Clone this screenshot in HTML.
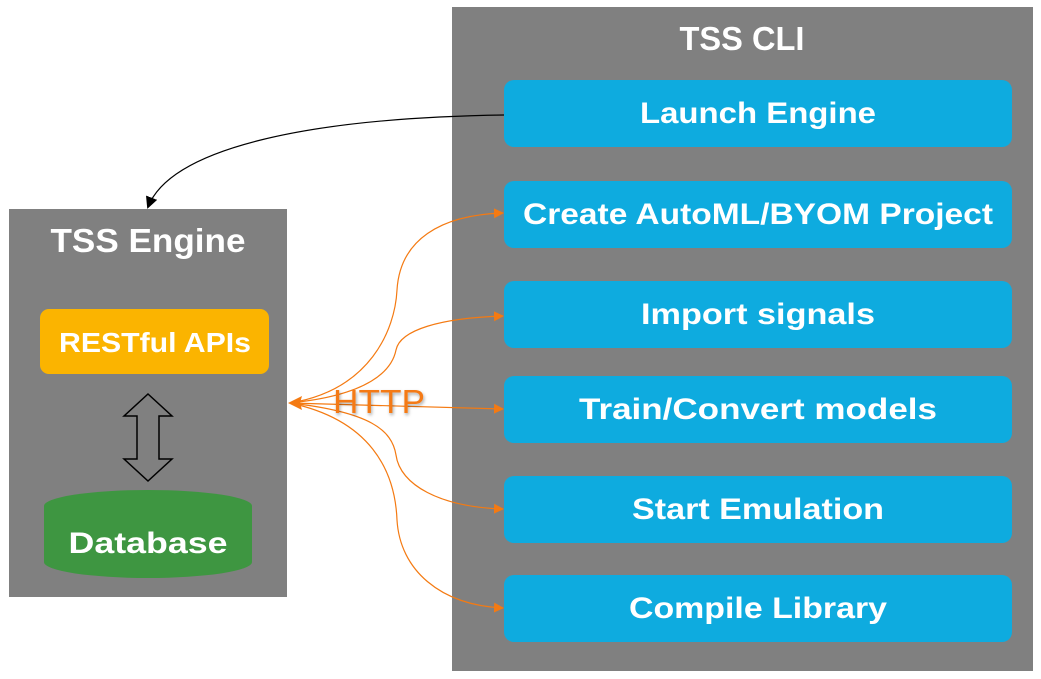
<!DOCTYPE html>
<html><head><meta charset="utf-8"><style>
html,body{margin:0;padding:0;background:#fff;}
svg{display:block;}
text{font-family:"Liberation Sans",sans-serif;font-weight:bold;fill:#fff;text-anchor:middle;}
</style></head><body>
<svg width="1041" height="679" viewBox="0 0 1041 679" xmlns="http://www.w3.org/2000/svg">
<defs>
<marker id="ob" markerWidth="10" markerHeight="10" refX="9" refY="5" orient="auto" markerUnits="userSpaceOnUse"><path d="M0,0 L10,5 L0,10 z" fill="#F47A12"/></marker>
<marker id="bk" markerWidth="12" markerHeight="12" refX="10" refY="6" orient="auto" markerUnits="userSpaceOnUse"><path d="M0,0 L12,6 L0,12 z" fill="#000"/></marker>
<filter id="sh" x="-20%" y="-20%" width="140%" height="140%"><feDropShadow dx="1" dy="2" stdDeviation="1.5" flood-color="#000" flood-opacity="0.35"/></filter>
</defs>
<rect x="452" y="7" width="581" height="664" fill="#808080"/>
<text x="742" y="50" font-size="33" textLength="125" lengthAdjust="spacingAndGlyphs">TSS CLI</text>
<g fill="#0EABDF">
<rect x="504" y="80" width="508" height="67" rx="10"/>
<rect x="504" y="181" width="508" height="67" rx="10"/>
<rect x="504" y="281" width="508" height="67" rx="10"/>
<rect x="504" y="376" width="508" height="67" rx="10"/>
<rect x="504" y="476" width="508" height="67" rx="10"/>
<rect x="504" y="575" width="508" height="67" rx="10"/>
</g>
<text x="758" y="123" font-size="30" textLength="236" lengthAdjust="spacingAndGlyphs">Launch Engine</text>
<text x="758" y="224" font-size="30" textLength="470" lengthAdjust="spacingAndGlyphs">Create AutoML/BYOM Project</text>
<text x="758" y="324" font-size="30" textLength="234" lengthAdjust="spacingAndGlyphs">Import signals</text>
<text x="758" y="419" font-size="30" textLength="358" lengthAdjust="spacingAndGlyphs">Train/Convert models</text>
<text x="758" y="519" font-size="30" textLength="252" lengthAdjust="spacingAndGlyphs">Start Emulation</text>
<text x="758" y="618" font-size="30" textLength="258" lengthAdjust="spacingAndGlyphs">Compile Library</text>

<rect x="9" y="209" width="278" height="388" fill="#808080"/>
<text x="148" y="252" font-size="33" textLength="195" lengthAdjust="spacingAndGlyphs">TSS Engine</text>
<rect x="40" y="309" width="229" height="65" rx="9" fill="#FBB400"/>
<text x="155" y="352" font-size="28" textLength="192" lengthAdjust="spacingAndGlyphs">RESTful APIs</text>
<path d="M148,394 L172,416 L159,416 L159,459 L172,459 L148,481 L124,459 L137,459 L137,416 L124,416 Z" fill="none" stroke="#000" stroke-width="1.5"/>
<path d="M44,506 A104,16 0 0 1 252,506 L252,562 A104,16 0 0 1 44,562 Z" fill="#3E9641"/>
<text x="148" y="553" font-size="30" textLength="159" lengthAdjust="spacingAndGlyphs">Database</text>

<path d="M504,115 C300,118 170,150 148,207" fill="none" stroke="#000" stroke-width="1.2" marker-end="url(#bk)"/>

<g fill="none" stroke="#F47A12" stroke-width="1.2">
<path d="M290,403 C370,390 395,330 397,290 C400,240 440,215 503,213" marker-end="url(#ob)"/>
<path d="M290,403 C370,395 392,370 396,350 C400,330 440,318 503,316" marker-end="url(#ob)"/>
<path d="M290,403 L503,409" marker-end="url(#ob)"/>
<path d="M290,403 C370,412 392,430 396,455 C400,485 440,507 503,509" marker-end="url(#ob)"/>
<path d="M290,403 C370,420 395,470 397,520 C400,570 440,605 503,608" marker-end="url(#ob)"/>
</g>
<path d="M288,403 L302,396 L300,403 L302,410 Z" fill="#F47A12"/>
<text x="379" y="413" font-size="33" textLength="92" lengthAdjust="spacingAndGlyphs" style="font-weight:normal;fill:#F47A12" filter="url(#sh)">HTTP</text>
</svg>
</body></html>
